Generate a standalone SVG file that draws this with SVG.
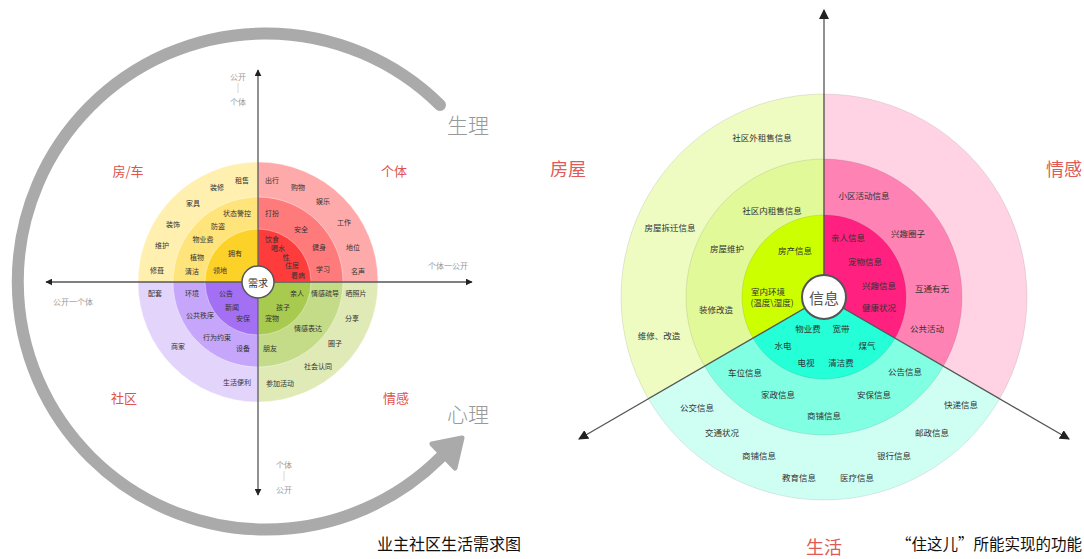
<svg xmlns="http://www.w3.org/2000/svg" width="1084" height="559" viewBox="0 0 1084 559">
<style>
text{font-family:"Noto Sans CJK SC","Noto Sans",sans-serif;text-anchor:middle;dominant-baseline:central}
.s{font-size:7px;fill:#333}
.m{font-size:8.5px;fill:#333}
.ax{font-size:8px;fill:#999}
.q{font-size:13px;fill:#e0524c}
.big{font-size:18px;fill:#e05a58}
.phys{font-size:21px;fill:#999;font-weight:300}
.cap{font-size:16px;fill:#111}
.ring{stroke:#fff;stroke-opacity:0.5;stroke-width:0.8}
.ring2{stroke:#000;stroke-opacity:0.12;stroke-width:0.8}
.axis{stroke:#555;stroke-width:1.3;fill:none}
</style>
<defs>
<marker id="ah" viewBox="0 0 10 10" refX="9" refY="5" markerWidth="7" markerHeight="7" markerUnits="userSpaceOnUse" orient="auto"><path d="M0 0L10 5L0 10Z" fill="#222"/></marker>
<marker id="ah2" viewBox="0 0 10 10" refX="9" refY="5" markerWidth="10" markerHeight="10" markerUnits="userSpaceOnUse" orient="auto"><path d="M0 0L10 5L0 10Z" fill="#222"/></marker>
</defs>
<rect width="1084" height="559" fill="#fff"/>

<!-- LEFT DIAGRAM -->
<g id="cycle-arrow">
<path d="M440 105 A248 248 0 1 0 441 457" fill="none" stroke="#aaa" stroke-width="12" stroke-linecap="round"/>
<polygon points="462,438 432,444 455,468" fill="#aaa" stroke="#aaa" stroke-width="5" stroke-linejoin="round"/>
</g>

<g id="q-house">
<path class="ring" d="M258 282L138 282A120 120 0 0 1 258 162Z" fill="#fff0b0"/>
<path class="ring" d="M258 282L173 282A85 85 0 0 1 258 197Z" fill="#ffe47c"/>
<path class="ring" d="M258 282L205 282A53 53 0 0 1 258 229Z" fill="#fcd228"/>
<text class="s" x="242" y="180">租售</text>
<text class="s" x="217" y="187">装修</text>
<text class="s" x="193" y="203">家具</text>
<text class="s" x="237" y="213">状态警控</text>
<text class="s" x="173" y="224">装饰</text>
<text class="s" x="218" y="226">防盗</text>
<text class="s" x="203" y="239">物业费</text>
<text class="s" x="162" y="245">维护</text>
<text class="s" x="235" y="253">拥有</text>
<text class="s" x="197" y="257">植物</text>
<text class="s" x="157" y="270">修葺</text>
<text class="s" x="192" y="271">清洁</text>
<text class="s" x="220" y="270">领地</text>
<text class="q" x="128" y="170">房/车</text>
</g>

<g id="q-individual">
<path class="ring" d="M258 282L258 162A120 120 0 0 1 378 282Z" fill="#ffaaaa"/>
<path class="ring" d="M258 282L258 197A85 85 0 0 1 343 282Z" fill="#ff7b7b"/>
<path class="ring" d="M258 282L258 229A53 53 0 0 1 311 282Z" fill="#fe3c3c"/>
<text class="s" x="272" y="180">出行</text>
<text class="s" x="298" y="187">购物</text>
<text class="s" x="323" y="201">娱乐</text>
<text class="s" x="272" y="213">打扮</text>
<text class="s" x="344" y="222">工作</text>
<text class="s" x="301" y="229">安全</text>
<text class="s" x="272" y="239">饮食</text>
<text class="s" x="278" y="248">喝水</text>
<text class="s" x="286" y="257">性</text>
<text class="s" x="292" y="265">住房</text>
<text class="s" x="298" y="275">看病</text>
<text class="s" x="319" y="247">健身</text>
<text class="s" x="353" y="247">地位</text>
<text class="s" x="323" y="269">学习</text>
<text class="s" x="358" y="271">名声</text>
<text class="q" x="394" y="170">个体</text>
</g>

<g id="q-emotion">
<path class="ring" d="M258 282L378 282A120 120 0 0 1 258 402Z" fill="#dfeab6"/>
<path class="ring" d="M258 282L343 282A85 85 0 0 1 258 367Z" fill="#c4dc88"/>
<path class="ring" d="M258 282L311 282A53 53 0 0 1 258 335Z" fill="#a8ca4e"/>
<text class="s" x="297" y="293">亲人</text>
<text class="s" x="325" y="293">情感疏导</text>
<text class="s" x="356" y="293">晒照片</text>
<text class="s" x="283" y="307">孩子</text>
<text class="s" x="272" y="318">宠物</text>
<text class="s" x="352" y="318">分享</text>
<text class="s" x="308" y="328">情感表达</text>
<text class="s" x="270" y="348">朋友</text>
<text class="s" x="335" y="343">圈子</text>
<text class="s" x="318" y="366">社会认同</text>
<text class="s" x="280" y="383">参加活动</text>
<text class="q" x="396" y="397">情感</text>
</g>

<g id="q-community">
<path class="ring" d="M258 282L258 402A120 120 0 0 1 138 282Z" fill="#e3d4fc"/>
<path class="ring" d="M258 282L258 367A85 85 0 0 1 173 282Z" fill="#c6a6fa"/>
<path class="ring" d="M258 282L258 335A53 53 0 0 1 205 282Z" fill="#a370f3"/>
<text class="s" x="155" y="293">配套</text>
<text class="s" x="192" y="293">环境</text>
<text class="s" x="226" y="293">公告</text>
<text class="s" x="232" y="307">新闻</text>
<text class="s" x="200" y="315">公共秩序</text>
<text class="s" x="243" y="318">安保</text>
<text class="s" x="217" y="337">行为约束</text>
<text class="s" x="178" y="346">商家</text>
<text class="s" x="243" y="348">设备</text>
<text class="s" x="237" y="382">生活便利</text>
<text class="q" x="124" y="397">社区</text>
</g>

<g id="axes-left">
<line class="axis" x1="258" y1="282" x2="258" y2="70" marker-end="url(#ah)"/>
<line class="axis" x1="258" y1="282" x2="258" y2="495" marker-end="url(#ah)"/>
<line class="axis" x1="258" y1="282" x2="46" y2="282" marker-end="url(#ah)"/>
<line class="axis" x1="258" y1="282" x2="472" y2="282" marker-end="url(#ah)"/>
</g>

<g id="center-need">
<circle cx="258" cy="282" r="16" fill="#fff" stroke="#555" stroke-width="1.5"/>
<text x="258" y="282" style="font-size:10px;fill:#333">需求</text>
</g>

<g id="axis-labels-left">
<text class="ax" x="238" y="76">公开</text>
<line x1="238" y1="83" x2="238" y2="93" stroke="#ccc" stroke-width="0.8"/>
<text class="ax" x="238" y="101">个体</text>
<text class="ax" x="284" y="464">个体</text>
<line x1="284" y1="471" x2="284" y2="481" stroke="#ccc" stroke-width="0.8"/>
<text class="ax" x="284" y="489">公开</text>
<text class="ax" x="73" y="301">公开一个体</text>
<text class="ax" x="448" y="265">个体一公开</text>
</g>

<text class="phys" x="468" y="124">生理</text>
<text class="phys" x="468" y="413">心理</text>
<text class="cap" x="449" y="543">业主社区生活需求图</text>

<!-- RIGHT DIAGRAM -->
<g id="s-house">
<path class="ring2" d="M824 297L824 94A203 203 0 0 0 648.2 398.5Z" fill="#eefcc2"/>
<path class="ring2" d="M824 297L824 159A138 138 0 0 0 704.5 366Z" fill="#e2f99a"/>
<path class="ring2" d="M824 297L824 215A82 82 0 0 0 753 338Z" fill="#ccff00"/>
<text class="m" x="762" y="137">社区外租售信息</text>
<text class="m" x="772" y="210">社区内租售信息</text>
<text class="m" x="670" y="227">房屋拆迁信息</text>
<text class="m" x="727" y="248">房屋维护</text>
<text class="m" x="795" y="250">房产信息</text>
<text class="m" x="768" y="291">室内环境</text>
<text class="m" x="772" y="302">(温度\湿度)</text>
<text class="m" x="716" y="309">装修改造</text>
<text class="m" x="659" y="335">维修、改造</text>
<text class="big" x="568" y="168">房屋</text>
</g>

<g id="s-emotion">
<path class="ring2" d="M824 297L824 94A203 203 0 0 1 999.8 398.5Z" fill="#ffd3e4"/>
<path class="ring2" d="M824 297L824 159A138 138 0 0 1 943.5 366Z" fill="#ff82b4"/>
<path class="ring2" d="M824 297L824 215A82 82 0 0 1 895 338Z" fill="#ff2080"/>
<text class="m" x="864" y="195">小区活动信息</text>
<text class="m" x="908" y="233">兴趣圈子</text>
<text class="m" x="848" y="237">亲人信息</text>
<text class="m" x="865" y="261">宠物信息</text>
<text class="m" x="879" y="285">兴趣信息</text>
<text class="m" x="932" y="288">互通有无</text>
<text class="m" x="879" y="307">健康状况</text>
<text class="m" x="927" y="328">公共活动</text>
<text class="big" x="1064" y="168">情感</text>
</g>

<g id="s-life">
<path class="ring2" d="M824 297L648.2 398.5A203 203 0 0 0 999.8 398.5Z" fill="#cffff3"/>
<path class="ring2" d="M824 297L704.5 366A138 138 0 0 0 943.5 366Z" fill="#80ffe3"/>
<path class="ring2" d="M824 297L753 338A82 82 0 0 0 895 338Z" fill="#24ffd8"/>
<text class="m" x="808" y="328">物业费</text>
<text class="m" x="841" y="328">宽带</text>
<text class="m" x="783" y="345">水电</text>
<text class="m" x="867" y="345">煤气</text>
<text class="m" x="806" y="362">电视</text>
<text class="m" x="841" y="362">清洁费</text>
<text class="m" x="745" y="372">车位信息</text>
<text class="m" x="905" y="371">公告信息</text>
<text class="m" x="778" y="394">家政信息</text>
<text class="m" x="874" y="394">安保信息</text>
<text class="m" x="824" y="415">商铺信息</text>
<text class="m" x="697" y="407">公交信息</text>
<text class="m" x="961" y="404">快递信息</text>
<text class="m" x="722" y="432">交通状况</text>
<text class="m" x="932" y="432">邮政信息</text>
<text class="m" x="759" y="455">商铺信息</text>
<text class="m" x="894" y="455">银行信息</text>
<text class="m" x="799" y="477">教育信息</text>
<text class="m" x="857" y="477">医疗信息</text>
<text class="big" x="824" y="546">生活</text>
</g>

<g id="axes-right">
<line class="axis" x1="824" y1="297" x2="824" y2="10" marker-end="url(#ah2)"/>
<line class="axis" x1="824" y1="297" x2="579" y2="439" marker-end="url(#ah2)"/>
<line class="axis" x1="824" y1="297" x2="1069" y2="439" marker-end="url(#ah2)"/>
</g>

<g id="center-info">
<circle cx="824" cy="297" r="22" fill="#fff" stroke="#555" stroke-width="2"/>
<text x="824" y="297" style="font-size:15px;fill:#555">信息</text>
</g>

<text class="cap" x="989" y="543" style="font-size:15.5px">“住这儿”所能实现的功能</text>
</svg>
